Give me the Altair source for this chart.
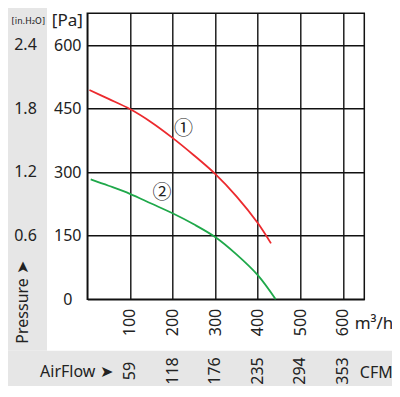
import altair as alt
import pandas as pd

# ---- data ----
flow_ticks = [100, 200, 300, 400, 500, 600]
cfm_labels = ["59", "118", "176", "235", "294", "353"]
pa_ticks = [150, 300, 450, 600]
inh2o_labels = ["0.6", "1.2", "1.8", "2.4"]

curve1_flow = [5, 50, 100, 150, 200, 250, 300, 350, 400, 431]
curve1_pa = [494, 473, 449, 418, 381, 340, 296, 243, 180, 132]
curve2_flow = [8, 50, 100, 150, 200, 250, 300, 350, 400, 442]
curve2_pa = [283, 268, 249, 226, 203, 177, 147, 106, 57, 0]

ann_labels = ["①", "②"]
ann_flow = [226, 175]
ann_pa = [401, 250]

FONT = "Noto Sans"
W, H = 277, 286
PL, PT = 79.3, 5.3
TOTW, TOTH = 384, 384

xscale = alt.Scale(domain=[0, 650], nice=False, zero=False)
yscale = alt.Scale(domain=[0, 675], nice=False, zero=False)

curves = pd.DataFrame({
    "flow": curve1_flow + curve2_flow,
    "pa": curve1_pa + curve2_pa,
    "curve": ["1"] * len(curve1_flow) + ["2"] * len(curve2_flow),
})
cfm_df = pd.DataFrame({"flow": flow_ticks, "cfm": cfm_labels})
inh_df = pd.DataFrame({"pa": pa_ticks, "lab": inh2o_labels})
ann_df = pd.DataFrame({"flow": ann_flow, "pa": ann_pa, "lab": ann_labels})
one = pd.DataFrame({"a": [0]})

gray = "#e6e6e6"
bg_col = alt.Chart(one).mark_rect(color=gray).encode(
    x=alt.value(-PL), x2=alt.value(-40.3), y=alt.value(-PT), y2=alt.value(337.4)
)
bg_band = alt.Chart(one).mark_rect(color=gray).encode(
    x=alt.value(-PL), x2=alt.value(TOTW - PL), y=alt.value(337.4), y2=alt.value(372.7)
)

x_axis = alt.Axis(
    values=list(range(0, 651, 50)),
    labelExpr="(datum.value % 100 == 0 && datum.value > 0 && datum.value < 650) ? datum.label : ''",
    grid=True, gridColor="#111111", gridWidth=1.4, domain=False, ticks=False,
    labelAngle=270, labelAlign="right", labelBaseline="middle", labelPadding=9,
    labelFont=FONT, labelFontSize=16, labelColor="#222222", title=None,
)
y_axis = alt.Axis(
    values=list(range(0, 676, 75)),
    labelExpr="(datum.value % 150 == 0 && datum.value <= 600) ? datum.label : ''",
    grid=True, gridColor="#111111", gridWidth=1.4, domain=False, ticks=False,
    labelAlign="center", labelBaseline="middle", labelPadding=20,
    labelFont=FONT, labelFontSize=16, labelColor="#222222", title=None,
)

lines = alt.Chart(curves).mark_line(strokeWidth=1.8, interpolate="catmull-rom").encode(
    x=alt.X("flow:Q", scale=xscale, axis=x_axis),
    y=alt.Y("pa:Q", scale=yscale, axis=y_axis),
    color=alt.Color("curve:N", scale=alt.Scale(domain=["1", "2"], range=["#ec2a2e", "#1fa84a"]), legend=None),
    detail="curve:N",
)

ann = alt.Chart(ann_df).mark_text(font="Noto Sans CJK SC", fontSize=19, color="#222222").encode(
    x=alt.X("flow:Q", scale=xscale), y=alt.Y("pa:Q", scale=yscale), text="lab:N"
)

inh = alt.Chart(inh_df).mark_text(font=FONT, fontSize=16, color="#222222", align="center", baseline="middle").encode(
    y=alt.Y("pa:Q", scale=yscale), x=alt.value(-61.8), text="lab:N"
)

cfm = alt.Chart(cfm_df).mark_text(font=FONT, fontSize=16, color="#222222", angle=270, align="center", baseline="middle").encode(
    x=alt.X("flow:Q", scale=xscale), y=alt.value(357.7), text="cfm:N"
)

def label(txt, x, y, size=16, angle=0, font=FONT):
    return alt.Chart(one).mark_text(text=txt, font=font, fontSize=size, color="#222222",
                                    align="center", baseline="middle", angle=angle).encode(
        x=alt.value(x), y=alt.value(y)
    )

texts = [
    label("[Pa]", -20, 8, 17),
    label("[in.H₂O]", -59, 8, 9.5, font="DejaVu Sans Condensed"),
    label("Pressure ➤", -64, 289, 16, angle=270),
    label("m³/h", 286.7, 310.7, 17),
    label("AirFlow ➤", -11, 359, 16),
    label("CFM", 289, 359.7, 16),
]

chart = alt.layer(bg_col, bg_band, lines, ann, inh, cfm, *texts).properties(
    width=W, height=H,
    padding={"left": PL, "top": PT, "right": TOTW - PL - W, "bottom": TOTH - PT - H},
    autosize=alt.AutoSizeParams(type="none"),
).configure_view(stroke="#111111", strokeWidth=1.5)

chart.save("out.html", embed_options={"renderer": "svg", "actions": False})
